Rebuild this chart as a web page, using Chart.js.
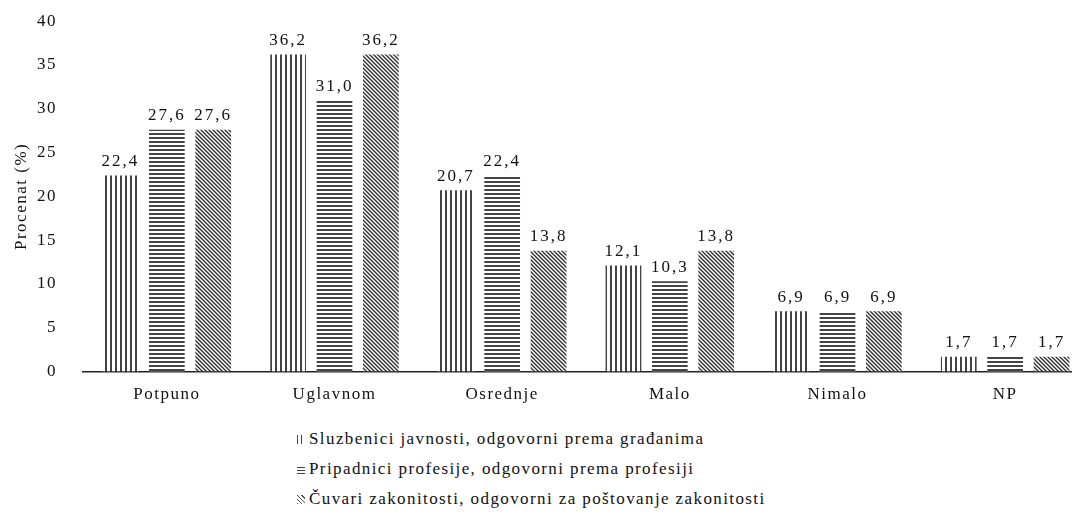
<!DOCTYPE html>
<html>
<head>
<meta charset="utf-8">
<script src="https://cdn.jsdelivr.net/npm/chart.js@4/dist/chart.umd.min.js"></script>
<style>
  html, body { margin: 0; padding: 0; background: #fff; overflow: hidden; }
  .wrap { width: 1096px; height: 433px; margin-top: -15px; position: relative; }
  .legend { position: absolute; left: 297px; top: 424px; font-family: "Liberation Serif", "Times New Roman", serif; font-size: 17px; letter-spacing: 1.4px; color: #111; }
  .legend div { height: 30px; line-height: 26px; display: flex; align-items: center; }
  .legend span.sw { display: inline-block; width: 8px; height: 9px; margin-right: 4px; }
</style>
</head>
<body>
<div class="wrap"><canvas id="c"></canvas></div>
<div class="legend">
  <div><span class="sw" style="background: repeating-linear-gradient(90deg, #444 0 1px, #fff 1px 4px);"></span>Sluzbenici javnosti, odgovorni prema građanima</div>
  <div><span class="sw" style="background: repeating-linear-gradient(0deg, #444 0 1px, #fff 1px 3px);"></span>Pripadnici profesije, odgovorni prema profesiji</div>
  <div><span class="sw" style="background: repeating-linear-gradient(45deg, #555 0 1px, #fff 1px 3px);"></span>Čuvari zakonitosti, odgovorni za poštovanje zakonitosti</div>
</div>
<script>
const categories = ["Potpuno", "Uglavnom", "Osrednje", "Malo", "Nimalo", "NP"];
const sluzbenici = [22.4, 36.2, 20.7, 12.1, 6.9, 1.7];
const pripadnici = [27.6, 31.0, 22.4, 10.3, 6.9, 1.7];
const cuvari = [27.6, 36.2, 13.8, 13.8, 6.9, 1.7];
const seriesNames = [
  "Sluzbenici javnosti, odgovorni prema građanima",
  "Pripadnici profesije, odgovorni prema profesiji",
  "Čuvari zakonitosti, odgovorni za poštovanje zakonitosti"
];

const serif = "'Liberation Serif', 'Times New Roman', serif";

function makePattern(kind) {
  const t = document.createElement("canvas");
  const s = kind === "diag" ? 4 : 5;
  t.width = s; t.height = kind === "horiz" ? 4 : s;
  const g = t.getContext("2d");
  g.fillStyle = "#fff";
  g.fillRect(0, 0, t.width, t.height);
  g.fillStyle = "#444";
  if (kind === "vert") {
    g.fillRect(0, 0, 2, t.height);
  } else if (kind === "horiz") {
    g.fillRect(0, 0, t.width, 2);
  } else {
    g.strokeStyle = "#2a2a2a";
    g.lineWidth = 1.3;
    g.beginPath();
    g.moveTo(-1, -1); g.lineTo(s + 1, s + 1);
    g.moveTo(-1, s - 1); g.lineTo(1, s + 1);
    g.moveTo(s - 1, -1); g.lineTo(s + 1, 1);
    g.stroke();
  }
  return g.createPattern(t, "repeat");
}

// letter spacing for all canvas text, like the original
const spacing = {
  id: "spacing",
  beforeInit(chart) { chart.ctx.letterSpacing = "1.5px"; },
  beforeDraw(chart) { chart.ctx.letterSpacing = "1.5px"; }
};

const valueLabels = {
  id: "valueLabels",
  afterDatasetsDraw(chart) {
    const ctx = chart.ctx;
    ctx.save();
    ctx.font = "17px " + serif;
    ctx.letterSpacing = "2px";
    ctx.fillStyle = "#111";
    ctx.textAlign = "center";
    ctx.textBaseline = "middle";
    chart.data.datasets.forEach((ds, i) => {
      chart.getDatasetMeta(i).data.forEach((bar, j) => {
        ctx.fillText(ds.data[j].toFixed(1).replace(".", ","), bar.x, bar.y - 14);
      });
    });
    ctx.restore();
  }
};

const canvas = document.getElementById("c");
new Chart(canvas, {
  type: "bar",
  data: {
    labels: categories,
    datasets: [
      { label: seriesNames[0], data: sluzbenici, backgroundColor: makePattern("vert") },
      { label: seriesNames[1], data: pripadnici, backgroundColor: makePattern("horiz") },
      { label: seriesNames[2], data: cuvari, backgroundColor: makePattern("diag") }
    ]
  },
  options: {
    responsive: true,
    maintainAspectRatio: false,
    animation: false,
    layout: { padding: { top: 0, right: 7, left: 0, bottom: 0 } },
    datasets: { bar: { categoryPercentage: 0.83, barPercentage: 0.77 } },
    plugins: { legend: { display: false }, tooltip: { enabled: false } },
    scales: {
      x: {
        grid: { display: false, drawTicks: false },
        border: { color: "#222", width: 1.5 },
        ticks: { color: "#111", padding: 13, font: { family: serif, size: 17 } }
      },
      y: {
        min: 0, max: 40,
        afterFit: (s) => { s.width = 83; },
        grid: { display: false, drawTicks: false },
        border: { display: false },
        ticks: { stepSize: 5, color: "#111", padding: 26, font: { family: serif, size: 17 } },
        title: { display: true, text: "Procenat (%)", color: "#111", padding: { top: 11, bottom: 0 }, font: { family: serif, size: 17 } }
      }
    }
  },
  plugins: [spacing, valueLabels]
});
</script>
</body>
</html>
